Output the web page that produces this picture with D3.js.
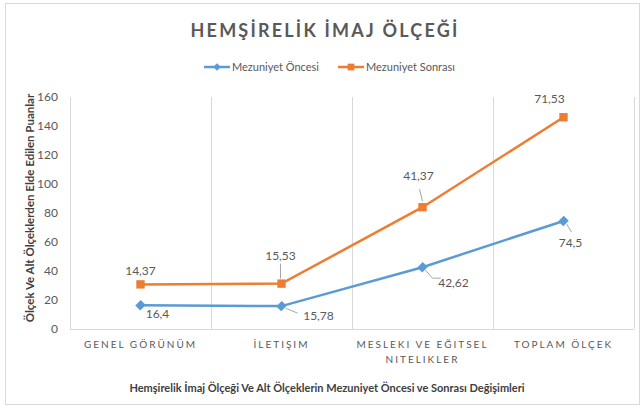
<!DOCTYPE html>
<html><head><meta charset="utf-8">
<script src="https://cdn.jsdelivr.net/npm/d3@7"></script>
<style>
body{margin:0;background:#fff;}
text{font-family:"Lato","Open Sans",sans-serif;}
</style></head><body>
<svg id="c" width="643" height="409"></svg>
<script>
const categories = ["GENEL GÖRÜNÜM","İLETIŞIM","MESLEKI VE EĞITSEL NITELIKLER","TOPLAM ÖLÇEK"];
const seriesNames = ["Mezuniyet Öncesi","Mezuniyet Sonrası"];
const oncesi = [16.4, 15.78, 42.62, 74.5];
const sonrasi = [14.37, 15.53, 41.37, 71.53];
const yTicks = [0,20,40,60,80,100,120,140,160];
const fmt = v => String(v).replace(".", ",");

const svg = d3.select("#c");
const colors=["#5B9BD5","#ED7D31"];

svg.append("rect").attr("x",5.5).attr("y",3.5).attr("width",634).attr("height",401)
  .attr("fill","#fff").attr("stroke","#d9d9d9");

const x = d3.scaleBand().domain(categories).range([70,634]);
const y = d3.scaleLinear().domain([0,160]).range([329,97]);

// vertical category gridlines
const edges = categories.map(c=>x(c)).concat([x.range()[1]]);
svg.append("g").selectAll("line").data(edges).join("line")
  .attr("x1",d=>d+0.5).attr("x2",d=>d+0.5).attr("y1",y(160)).attr("y2",y(0))
  .attr("stroke","#d9d9d9");
svg.append("line").attr("x1",70).attr("x2",634).attr("y1",y(0)+0.5).attr("y2",y(0)+0.5).attr("stroke","#d9d9d9");

// y axis
const ya = svg.append("g").attr("transform","translate(70,0)")
  .call(d3.axisLeft(y).tickValues(yTicks).tickSize(0).tickPadding(12));
ya.select(".domain").remove();
ya.selectAll("text").attr("fill","#595959").style("font-size","12px")
  .style("font-family","Lato,sans-serif");

// x axis labels
const xl = svg.append("g");
const xlines = {"MESLEKI VE EĞITSEL NITELIKLER":["MESLEKI VE EĞITSEL","NITELIKLER"]};
categories.forEach(c=>{
  const lines = xlines[c]||[c];
  lines.forEach((ln,i)=>{
    xl.append("text").attr("x",x(c)+x.bandwidth()/2).attr("y",348+i*15)
      .attr("text-anchor","middle").attr("fill","#595959").style("font-size","10px")
      .style("letter-spacing","2px").text(ln);
  });
});

// stacked data
const stackData = categories.map((c,i)=>({cat:c,a:oncesi[i],b:sonrasi[i]}));
const stacked = d3.stack().keys(["a","b"])(stackData);

const line = d3.line().x(d=>x(d.data.cat)+x.bandwidth()/2).y(d=>y(d[1]));
stacked.forEach((s,si)=>{
  svg.append("path").datum(s).attr("d",line).attr("fill","none")
    .attr("stroke",colors[si]).attr("stroke-width",2.5);
});
// markers
stacked.forEach((s,si)=>{
  svg.append("g").selectAll("path").data(s).join("path")
    .attr("d", si===0 ? d3.symbol().type(d3.symbolSquare).size(55)() : d3.symbol().type(d3.symbolSquare).size(70)())
    .attr("fill",colors[si])
    .attr("transform",d=>`translate(${x(d.data.cat)+x.bandwidth()/2},${y(d[1])})`+(si===0?" rotate(45) scale(0.95,1.05)":""));
});

// data labels: offsets [dx,dy] relative to point, and leader lines
const offA = [[17,9,null],[37,10,[[4,2],[16,7]]],[31,16,[[3,3],[10,11],[18,11]]],[7,22,[[3,3],[8,11]]]];
const offB = [[0,-14,null],[-1,-28,[[-1,-5],[-1,-20]]],[-4,-31,[[0,-6],[-3,-18]]],[-14,-18,null]];
const labelLayer = svg.append("g");
function addLabels(s, offs, vals){
  s.forEach((d,i)=>{
    const px=x(d.data.cat)+x.bandwidth()/2, py=y(d[1]);
    const o=offs[i];
    if(o[2]){
      labelLayer.append("polyline").attr("points",o[2].map(p=>[px+p[0],py+p[1]].join(",")).join(" "))
        .attr("fill","none").attr("stroke","#a6a6a6").attr("stroke-width",1);
    }
    labelLayer.append("text").attr("x",px+o[0]).attr("y",py+o[1]).attr("dy","0.35em")
      .attr("text-anchor","middle").attr("fill","#595959").style("font-size","12px")
      .text(fmt(vals[i]));
  });
}
addLabels(stacked[0], offA, oncesi);
addLabels(stacked[1], offB, sonrasi);

// title
svg.append("text").attr("x",325).attr("y",37).attr("text-anchor","middle")
  .attr("fill","#595959").style("font-size","18px").style("font-weight","bold")
  .style("letter-spacing","2.2px").text("HEMŞİRELİK İMAJ ÖLÇEĞİ");

// legend
const lg = svg.append("g");
const lx=[204,338];
seriesNames.forEach((n,i)=>{
  lg.append("line").attr("x1",lx[i]).attr("x2",lx[i]+26).attr("y1",67).attr("y2",67)
    .attr("stroke",colors[i]).attr("stroke-width",2.5);
  lg.append("path").attr("d",d3.symbol().type(d3.symbolSquare).size(i===0?30:45)())
    .attr("transform",`translate(${lx[i]+13},67)`+(i===0?" rotate(45)":"")).attr("fill",colors[i]);
  lg.append("text").attr("x",lx[i]+28).attr("y",67).attr("dy","0.35em").attr("fill","#595959")
    .style("font-size","11px").text(n);
});

// axis titles
svg.append("text").attr("transform","translate(34,208) rotate(-90)").attr("text-anchor","middle")
  .attr("fill","#404040").style("font-size","11.5px").style("font-weight","bold")
  .text("Ölçek Ve Alt Ölçeklerden Elde Edilen Puanlar");
svg.append("text").attr("x",327).attr("y",392).attr("text-anchor","middle")
  .attr("fill","#404040").style("font-size","11px").style("font-weight","bold")
  .text("Hemşirelik İmaj Ölçeği Ve Alt Ölçeklerin Mezuniyet Öncesi ve Sonrası Değişimleri");
</script>
</body></html>
